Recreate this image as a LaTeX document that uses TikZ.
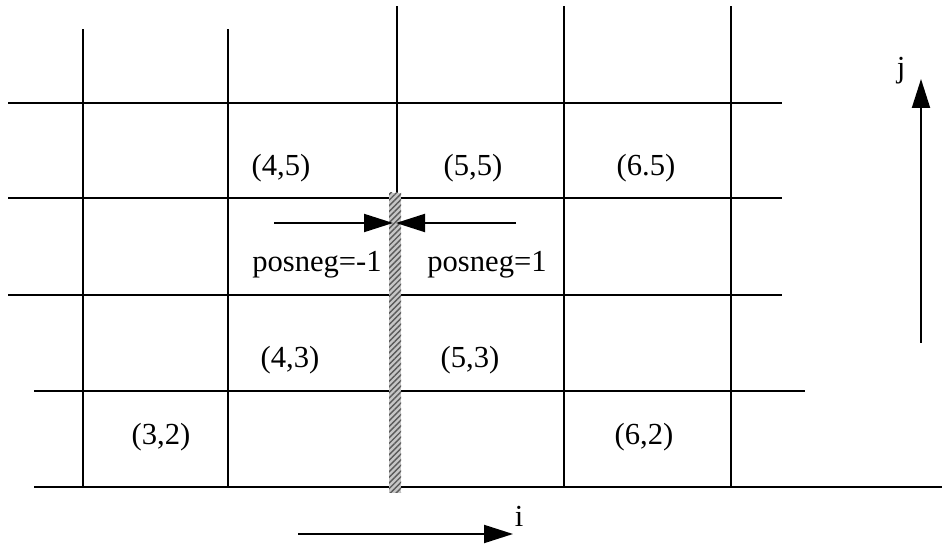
\documentclass[tikz,border=0pt]{standalone}
\usepackage{fontspec}
\setmainfont{Liberation Serif}
\usetikzlibrary{arrows.meta,patterns.meta}
\tikzset{
  grid/.style={line width=1pt,line cap=rect},
  lbl/.style={inner sep=0pt,font=\fontsize{15.3}{18}\selectfont},
  arr/.style={line width=1pt,-{Triangle[length=14.5pt,width=9pt]}},
  wall/.style={fill=gray!45,pattern={Lines[angle=45,distance=2pt,line width=0.7pt]},pattern color=black!65}
}
\begin{document}
\begin{tikzpicture}[x=0.5pt,y=-0.5pt]
\useasboundingbox (0,0) rectangle (942,544);
% horizontal grid lines
\draw[grid] (9,103) -- (781,103);
\draw[grid] (9,198) -- (781,198);
\draw[grid] (9,295) -- (781,295);
\draw[grid] (35,391) -- (804,391);
\draw[grid] (35,487) -- (942,487);
% vertical grid lines
\draw[grid] (83,30) -- (83,487);
\draw[grid] (228,30) -- (228,487);
\draw[grid] (397,7) -- (397,487);
\draw[grid] (564,7) -- (564,487);
\draw[grid] (731,7) -- (731,487);
% hatched wall
\fill[gray!45] (389,193) rectangle (401,493);
\fill[wall] (389,193) rectangle (401,493);
% cell labels
\node[lbl] (c45) at (281,168) {(4,5)};
\node[lbl] (c55) at (473,168) {(5,5)};
\node[lbl] (c65) at (646,168) {(6.5)};
\node[lbl] (c43) at (290,360) {(4,3)};
\node[lbl] (c53) at (470,360) {(5,3)};
\node[lbl] (c32) at (161,437) {(3,2)};
\node[lbl] (c62) at (644,437) {(6,2)};
\node[lbl,anchor=base] (pn1) at (317,272) {posneg=-1};
\node[lbl,anchor=base] (pp1) at (487,272) {posneg=1};
% posneg arrows
\coordinate (la) at (274,223);
\coordinate (lt) at (393,223);
\coordinate (ra) at (516,223);
\coordinate (rt) at (396,223);
\draw[arr] (la) -- (lt);
\draw[arr] (ra) -- (rt);
% axes
\coordinate (is) at (298,534);
\coordinate (ie) at (513,534);
\draw[arr] (is) -- (ie);
\node[lbl,anchor=base] (ilab) at (519,527) {i};
\coordinate (js) at (921,343);
\coordinate (je) at (921,79);
\draw[arr] (js) -- (je);
\node[lbl,anchor=base] (jlab) at (901,78) {j};
\end{tikzpicture}
\end{document}
